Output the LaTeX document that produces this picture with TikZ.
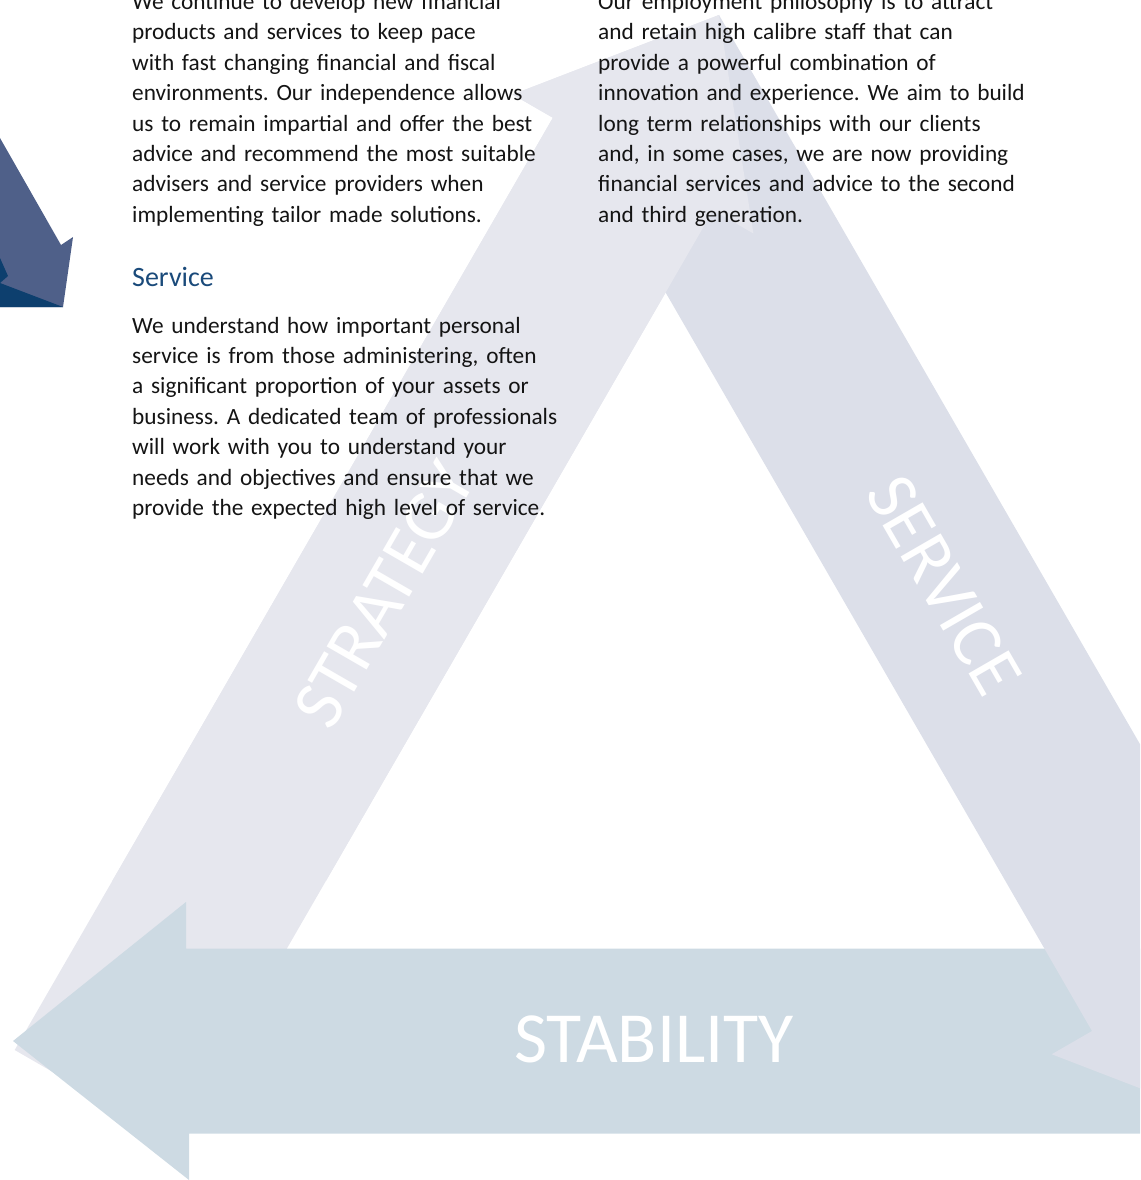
\documentclass[tikz,border=0pt]{standalone}
\usepackage{fontspec}
\setmainfont{Carlito}
\frenchspacing
\definecolor{stratcol}{HTML}{E6E7EE}
\definecolor{servcol}{HTML}{DCDFE9}
\definecolor{stabcol}{HTML}{CDDAE3}
\definecolor{slate}{HTML}{4F6089}
\definecolor{navy}{HTML}{0D3F6E}
\definecolor{headcol}{HTML}{1A4A7A}
\definecolor{bodycol}{HTML}{141414}
\begin{document}
\begin{tikzpicture}[x=1pt,y=-1pt,
  body/.style={anchor=base west, inner sep=0pt, text width=500pt, align=left,
    font=\fontsize{23.3}{30.4}\selectfont\frenchspacing, text=bodycol},
  bigword/.style={inner sep=0pt, text=white, font=\fontsize{72}{86}\selectfont},
  heading/.style={anchor=base west, inner sep=0pt, font=\fontsize{28}{34}\selectfont, text=headcol},
  stratfill/.style={fill=stratcol},
  servfill/.style={fill=servcol},
  stabfill/.style={fill=stabcol}]
\useasboundingbox (0,0) rectangle (1140,1180);
\clip (0,0) rectangle (1140,1180);
\def\strategyshape{(14.7,1050) -- (552.9,117.75) -- (512.6,94.5) -- (719,15) -- (753.4,233.5) -- (713.1,210.25) -- (174.9,1142.5) -- cycle}
% strategy arrow (full)
\path[stratfill] \strategyshape;
% stability arrow
\path[stabfill] (1200,948.5) -- (186,948.5) -- (186,902) -- (13,1041) -- (189,1180) -- (189,1133.5) -- (1200,1133.5) -- cycle;
% service arrow
\path[servfill] (719,15) -- (1252.2,938.5) -- (1292.5,915.25) -- (1258.1,1133.7) -- (1051.7,1054.25) -- (1092,1031) -- (558.8,107.5) -- cycle;
% strategy upper part on top of service
\begin{scope}
\clip (0,0) rectangle (1140,880);
\path[stratfill] \strategyshape;
\end{scope}
% small arrow at top left
\path[fill=slate] (0,138) -- (61,245) -- (73,237) -- (63,307) -- (0,307) -- cycle;
\path[fill=navy] (0,258) -- (8,276) -- (0,283) -- (63,307) -- (0,307) -- cycle;
% big labels
\node[bigword, rotate=60] (strat) at (384,595) {STRATEGY};
\node[bigword, rotate=-60] (serv) at (944,585) {SERVICE};
\node[bigword] (stab) at (654,1039.5) {STABILITY};
% texts
\node[body] (p1) at (132,9.6) {We continue to develop new financial\\
products and services to keep pace\\
with fast changing financial and fiscal\\
environments. Our independence allows\\
us to remain impartial and offer the best\\
advice and recommend the most suitable\\
advisers and service providers when\\
implementing tailor made solutions.};
\node[heading] (h1) at (132,286) {Service};
\node[body] (p2) at (132,333) {We understand how important personal\\
service is from those administering, often\\
a significant proportion of your assets or\\
business. A dedicated team of professionals\\
will work with you to understand your\\
needs and objectives and ensure that we\\
provide the expected high level of service.};
\node[body] (p3) at (598,9.6) {Our employment philosophy is to attract\\
and retain high calibre staff that can\\
provide a powerful combination of\\
innovation and experience. We aim to build\\
long term relationships with our clients\\
and, in some cases, we are now providing\\
financial services and advice to the second\\
and third generation.};
\end{tikzpicture}
\end{document}
